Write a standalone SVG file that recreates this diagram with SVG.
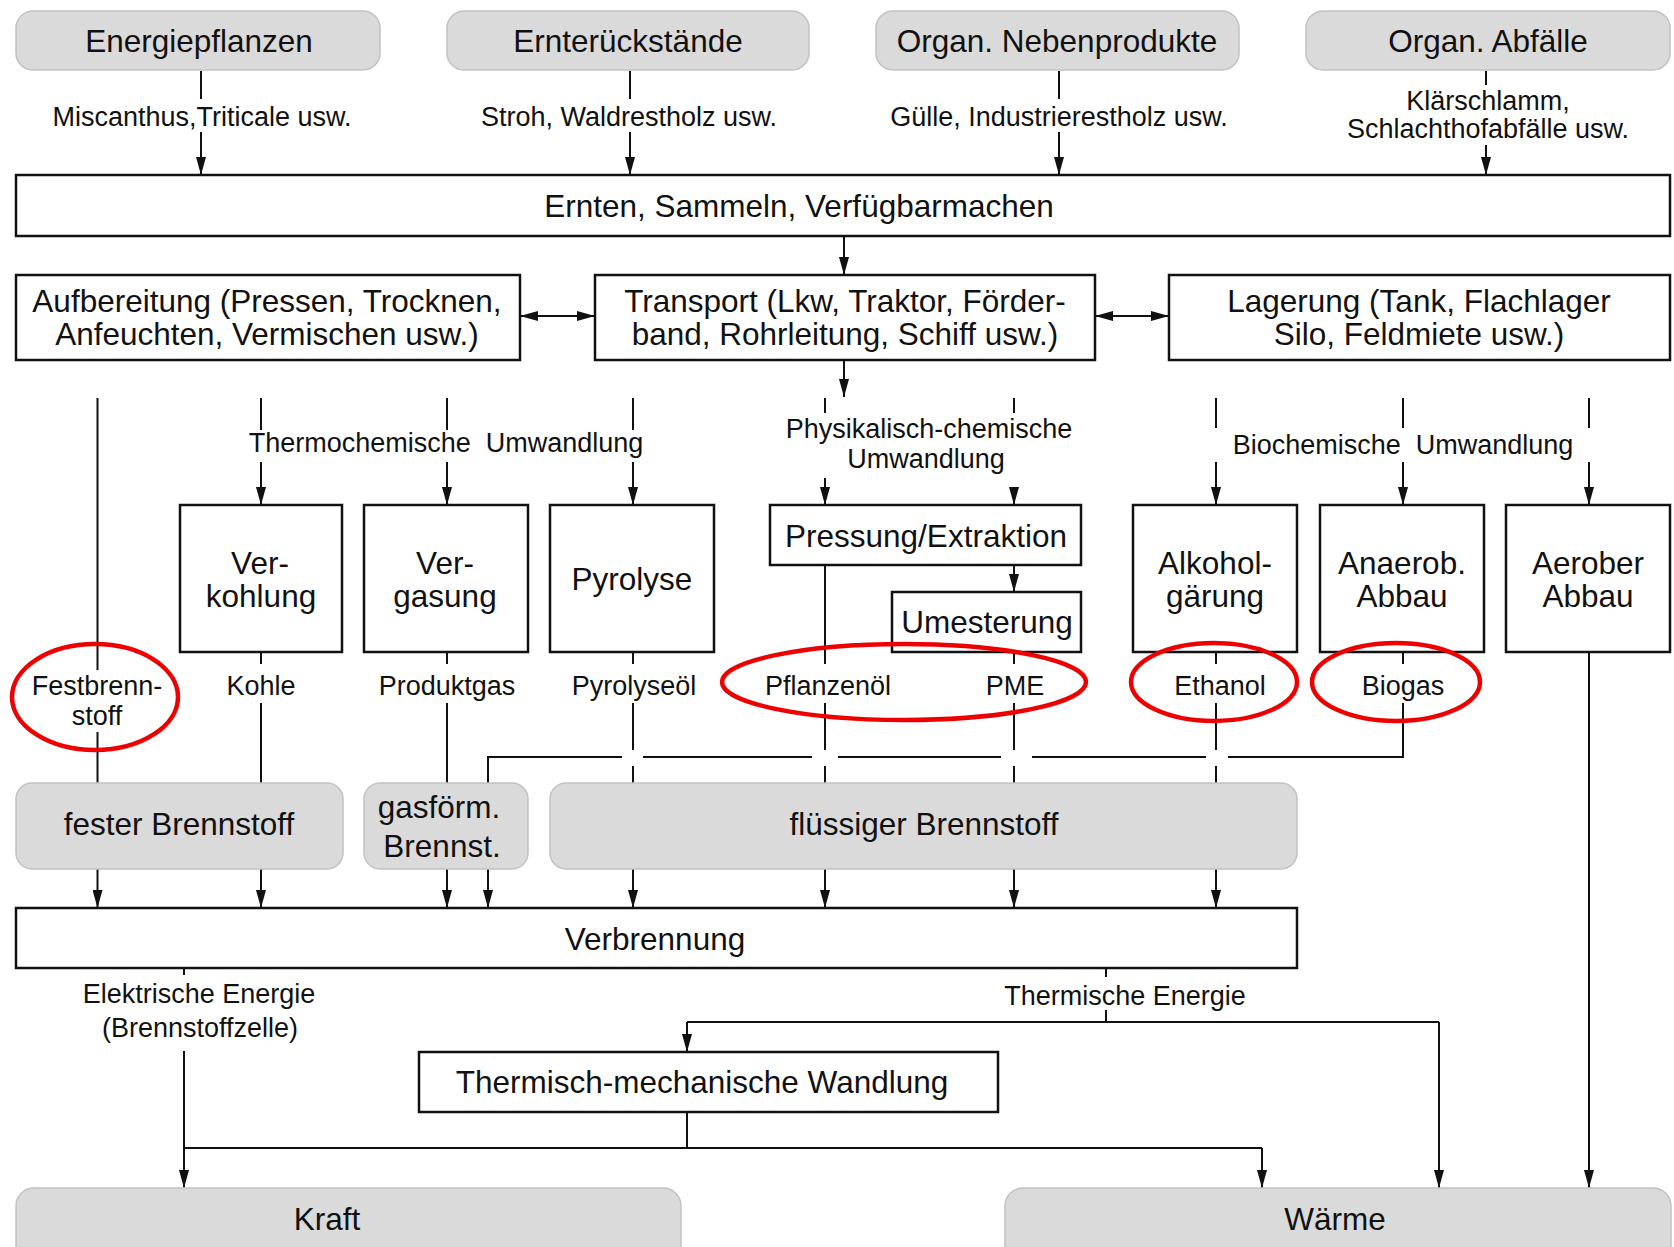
<svg xmlns="http://www.w3.org/2000/svg" width="1674" height="1247" viewBox="0 0 1674 1247">
<defs>
<style>
text{font-family:"Liberation Sans",Arial,sans-serif;fill:#111;text-anchor:middle}
.b{font-size:31.5px}
.s{font-size:27px}
.pre{white-space:pre}
.box{fill:#fff;stroke:#111;stroke-width:2.5}
.gbox{fill:#dadada;stroke:#c2c2c2;stroke-width:1.5}
.ln{fill:none;stroke:#111;stroke-width:2}
.ar{fill:none;stroke:#111;stroke-width:2;marker-end:url(#ah)}
.dar{fill:none;stroke:#111;stroke-width:2;marker-end:url(#ah);marker-start:url(#ah)}
.red{fill:none;stroke:#ee0000;stroke-width:4.5}
</style>
<marker id="ah" markerUnits="userSpaceOnUse" markerWidth="18" markerHeight="10" refX="18" refY="5" orient="auto-start-reverse">
<path d="M0,0 L18,5 L0,10 z" fill="#111"/>
</marker>
</defs>
<rect width="1674" height="1247" fill="#fff"/>

<g id="connectors">
<path class="ln" d="M201,71V99 M630,71V99 M1059,71V99 M1486,71V85"/>
<path class="ar" d="M201,132V175"/>
<path class="ar" d="M630,132V175"/>
<path class="ar" d="M1059,132V175"/>
<path class="ar" d="M1486,145V175"/>
<path class="ar" d="M844,236V275"/>
<path class="dar" d="M520,316H595"/>
<path class="dar" d="M1095,316H1169"/>
<path class="ar" d="M844,360V397"/>
<path class="ln" d="M97.5,398V670 M97.5,732V783"/>
<path class="ln" d="M261,398V430 M447,398V430 M633,398V430"/>
<path class="ar" d="M261,462V505"/>
<path class="ar" d="M447,462V505"/>
<path class="ar" d="M633,462V505"/>
<path class="ln" d="M825,398V413 M1014,398V413"/>
<path class="ar" d="M825,478V505"/>
<path class="ar" d="M1014,488V505"/>
<path class="ln" d="M1216,398V428 M1403,398V428 M1589,398V428"/>
<path class="ar" d="M1216,462V505"/>
<path class="ar" d="M1403,462V505"/>
<path class="ar" d="M1589,462V505"/>
<path class="ar" d="M1014,565V592"/>
<path class="ln" d="M261,652V664 M261,703V783"/>
<path class="ln" d="M447,652V664 M447,703V783"/>
<path class="ln" d="M633,652V664 M633,703V750 M633,766V783"/>
<path class="ln" d="M825,565V664 M825,703V750 M825,766V783"/>
<path class="ln" d="M1014,652V664 M1014,703V750 M1014,766V783"/>
<path class="ln" d="M1216,652V664 M1216,703V750 M1216,766V783"/>
<path class="ln" d="M1403,652V664 M1403,703V757H1228 M1206,757H1032 M1001,757H838 M812,757H643 M622,757H488V783"/>
<path class="ar" d="M1589,652V1188"/>
<path class="ar" d="M97.5,869V908"/>
<path class="ar" d="M261,869V908"/>
<path class="ar" d="M447,869V908"/>
<path class="ar" d="M488,869V908"/>
<path class="ar" d="M633,869V908"/>
<path class="ar" d="M825,869V908"/>
<path class="ar" d="M1014,869V908"/>
<path class="ar" d="M1216,869V908"/>
<path class="ln" d="M184,968V975"/>
<path class="ar" d="M184,1051V1188"/>
<path class="ln" d="M184,1148H1262 M687,1112V1148"/>
<path class="ar" d="M1262,1148V1188"/>
<path class="ln" d="M1106,968V977 M1106,1010V1022 M687,1022H1439"/>
<path class="ar" d="M687,1022V1052"/>
<path class="ar" d="M1439,1022V1188"/>
</g>

<g id="energiepflanzen"><rect class="gbox" x="16" y="11" width="364" height="59" rx="17"/><text class="b" x="199" y="52">Energiepflanzen</text></g>
<g id="ernterueckstaende"><rect class="gbox" x="447" y="11" width="362" height="59" rx="17"/><text class="b" x="628" y="52">Ernterückstände</text></g>
<g id="nebenprodukte"><rect class="gbox" x="876" y="11" width="363" height="59" rx="17"/><text class="b" x="1057" y="52">Organ. Nebenprodukte</text></g>
<g id="abfaelle"><rect class="gbox" x="1306" y="11" width="364" height="59" rx="17"/><text class="b" x="1488" y="52">Organ. Abfälle</text></g>

<g id="lbl-src">
<text class="s" x="202" y="126">Miscanthus,Triticale usw.</text>
<text class="s" x="629" y="126">Stroh, Waldrestholz usw.</text>
<text class="s" x="1059" y="126">Gülle, Industrierestholz usw.</text>
<text class="s" x="1488" y="110">Klärschlamm,</text>
<text class="s" x="1488" y="138">Schlachthofabfälle usw.</text>
</g>

<g id="ernten"><rect class="box" x="16" y="175" width="1654" height="61"/><text class="b" x="799" y="217">Ernten, Sammeln, Verfügbarmachen</text></g>
<g id="aufbereitung"><rect class="box" x="16" y="275" width="504" height="85"/><text class="b" x="267" y="312">Aufbereitung (Pressen, Trocknen,</text><text class="b" x="267" y="345">Anfeuchten, Vermischen usw.)</text></g>
<g id="transport"><rect class="box" x="595" y="275" width="500" height="85"/><text class="b" x="845" y="312">Transport (Lkw, Traktor, Förder-</text><text class="b" x="845" y="345">band, Rohrleitung, Schiff usw.)</text></g>
<g id="lagerung"><rect class="box" x="1169" y="275" width="501" height="85"/><text class="b" x="1419" y="312">Lagerung (Tank, Flachlager</text><text class="b" x="1419" y="345">Silo, Feldmiete usw.)</text></g>

<g id="lbl-conv">
<text class="s pre" x="446" y="452" xml:space="preserve">Thermochemische  Umwandlung</text>
<text class="s" x="929" y="438">Physikalisch-chemische</text>
<text class="s" x="926" y="468">Umwandlung</text>
<text class="s pre" x="1403" y="454" xml:space="preserve">Biochemische  Umwandlung</text>
</g>

<g id="verkohlung"><rect class="box" x="180" y="505" width="162" height="147"/><text class="b" x="260" y="574">Ver-</text><text class="b" x="261" y="607">kohlung</text></g>
<g id="vergasung"><rect class="box" x="364" y="505" width="164" height="147"/><text class="b" x="445" y="574">Ver-</text><text class="b" x="445" y="607">gasung</text></g>
<g id="pyrolyse"><rect class="box" x="550" y="505" width="164" height="147"/><text class="b" x="632" y="590">Pyrolyse</text></g>
<g id="pressung"><rect class="box" x="770" y="505" width="311" height="60"/><text class="b" x="926" y="547">Pressung/Extraktion</text></g>
<g id="umesterung"><rect class="box" x="892" y="592" width="189" height="60"/><text class="b" x="987" y="633">Umesterung</text></g>
<g id="alkohol"><rect class="box" x="1133" y="505" width="164" height="147"/><text class="b" x="1215" y="574">Alkohol-</text><text class="b" x="1215" y="607">gärung</text></g>
<g id="anaerob"><rect class="box" x="1320" y="505" width="164" height="147"/><text class="b" x="1402" y="574">Anaerob.</text><text class="b" x="1402" y="607">Abbau</text></g>
<g id="aerob"><rect class="box" x="1506" y="505" width="164" height="147"/><text class="b" x="1588" y="574">Aerober</text><text class="b" x="1588" y="607">Abbau</text></g>

<g id="lbl-prod">
<text class="s" x="97" y="695">Festbrenn-</text>
<text class="s" x="97" y="725">stoff</text>
<text class="s" x="261" y="695">Kohle</text>
<text class="s" x="447" y="695">Produktgas</text>
<text class="s" x="634" y="695">Pyrolyseöl</text>
<text class="s" x="828" y="695">Pflanzenöl</text>
<text class="s" x="1015" y="695">PME</text>
<text class="s" x="1220" y="695">Ethanol</text>
<text class="s" x="1403" y="695">Biogas</text>
</g>

<g id="fester"><rect class="gbox" x="16" y="783" width="327" height="86" rx="16"/><text class="b" x="179" y="835">fester Brennstoff</text></g>
<g id="gasfoerm"><rect class="gbox" x="364" y="783" width="164" height="86" rx="16"/><text class="b" x="439" y="818">gasförm.</text><text class="b" x="442" y="857">Brennst.</text></g>
<g id="fluessig"><rect class="gbox" x="550" y="783" width="747" height="86" rx="16"/><text class="b" x="924" y="835">flüssiger Brennstoff</text></g>

<g id="verbrennung"><rect class="box" x="16" y="908" width="1281" height="60"/><text class="b" x="655" y="950">Verbrennung</text></g>

<g id="lbl-energy">
<text class="s" x="199" y="1003">Elektrische Energie</text>
<text class="s" x="200" y="1037">(Brennstoffzelle)</text>
<text class="s" x="1125" y="1005">Thermische Energie</text>
</g>

<g id="thermmech"><rect class="box" x="419" y="1052" width="579" height="60"/><text class="b" x="702" y="1093">Thermisch-mechanische Wandlung</text></g>
<g id="kraft"><rect class="gbox" x="16" y="1188" width="665" height="80" rx="18"/><text class="b" x="327" y="1230">Kraft</text></g>
<g id="waerme"><rect class="gbox" x="1005" y="1188" width="666" height="80" rx="18"/><text class="b" x="1335" y="1230">Wärme</text></g>

<g id="highlights">
<ellipse class="red" cx="95" cy="697" rx="83" ry="53"/>
<ellipse class="red" cx="904" cy="682" rx="182" ry="38"/>
<ellipse class="red" cx="1214" cy="682" rx="83" ry="39"/>
<ellipse class="red" cx="1396" cy="682" rx="84" ry="39"/>
</g>
</svg>
